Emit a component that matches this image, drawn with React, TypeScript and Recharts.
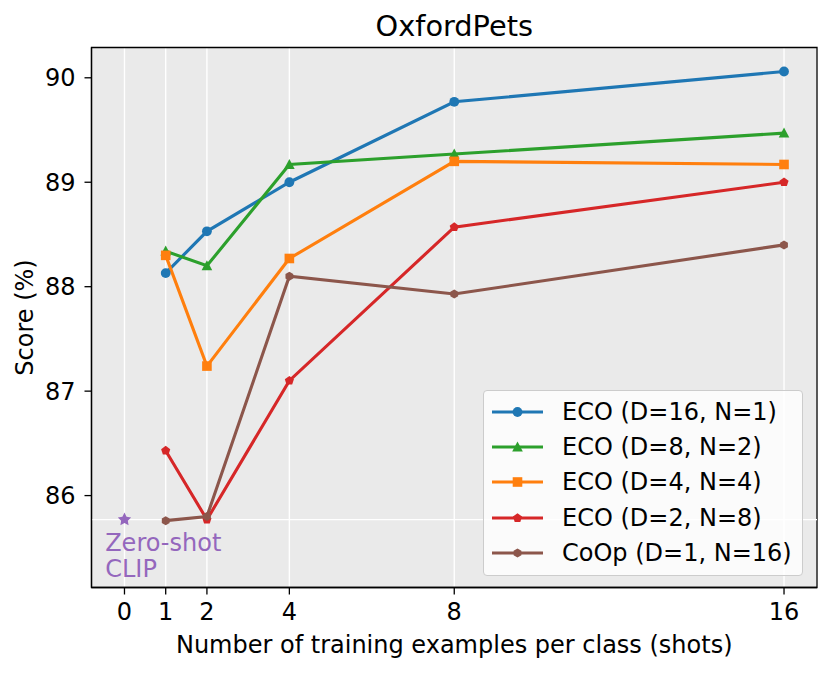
import React from "react";
import {
  ComposedChart,
  Line,
  Scatter,
  XAxis,
  YAxis,
  CartesianGrid,
  ReferenceLine,
  ReferenceArea,
  Legend,
} from "recharts";

const shots = [1, 2, 4, 8, 16];
const eco16 = [88.13, 88.53, 89.0, 89.77, 90.06];
const eco8 = [88.34, 88.2, 89.17, 89.27, 89.47];
const eco4 = [88.3, 87.24, 88.27, 89.2, 89.17];
const eco2 = [86.43, 85.77, 87.1, 88.57, 89.0];
const coop = [85.76, 85.8, 88.1, 87.93, 88.4];
const zeroShotClip = 85.77;

const xTicks = [0, 1, 2, 4, 8, 16];
const yTicks = [86, 87, 88, 89, 90];
const xDomain: [number, number] = [-0.8, 16.8];
const yDomain: [number, number] = [85.12, 90.29];

const FONT = "DejaVu Sans";
const LINE_W = 3.1;

const data = shots.map((shot, i) => ({
  shot,
  eco16: eco16[i],
  eco8: eco8[i],
  eco4: eco4[i],
  eco2: eco2[i],
  coop: coop[i],
}));

const zeroShotData = [{ shot: 0, zeroShot: zeroShotClip }];

type Shape = "circle" | "triangle" | "square" | "pentagon" | "hexagon" | "star";

const polygon = (cx: number, cy: number, n: number, r: number) => {
  const pts: string[] = [];
  for (let k = 0; k < n; k++) {
    const a = -Math.PI / 2 + (2 * Math.PI * k) / n;
    pts.push(`${cx + r * Math.cos(a)},${cy + r * Math.sin(a)}`);
  }
  return pts.join(" ");
};

const star = (cx: number, cy: number, r: number) => {
  const pts: string[] = [];
  for (let k = 0; k < 10; k++) {
    const a = -Math.PI / 2 + (Math.PI * k) / 5;
    const rr = k % 2 === 0 ? r : r * 0.5;
    pts.push(`${cx + rr * Math.cos(a)},${cy + rr * Math.sin(a)}`);
  }
  return pts.join(" ");
};

function Marker({ shape, cx, cy, color }: { shape: Shape; cx: number; cy: number; color: string }) {
  switch (shape) {
    case "circle":
      return <circle cx={cx} cy={cy} r={4.9} fill={color} />;
    case "triangle":
      return (
        <polygon
          points={`${cx},${cy - 5.6} ${cx - 5.3},${cy + 4.4} ${cx + 5.3},${cy + 4.4}`}
          fill={color}
        />
      );
    case "square":
      return <rect x={cx - 4.8} y={cy - 4.8} width={9.6} height={9.6} fill={color} />;
    case "pentagon":
      return <polygon points={polygon(cx, cy, 5, 4.8)} fill={color} />;
    case "hexagon":
      return <polygon points={polygon(cx, cy, 6, 4.5)} fill={color} />;
    default:
      return <polygon points={star(cx, cy, 7)} fill={color} />;
  }
}

const series: { key: string; name: string; color: string; shape: Shape }[] = [
  { key: "eco16", name: "ECO (D=16, N=1)", color: "#1f77b4", shape: "circle" },
  { key: "eco8", name: "ECO (D=8, N=2)", color: "#2ca02c", shape: "triangle" },
  { key: "eco4", name: "ECO (D=4, N=4)", color: "#ff7f0e", shape: "square" },
  { key: "eco2", name: "ECO (D=2, N=8)", color: "#d62728", shape: "pentagon" },
  { key: "coop", name: "CoOp (D=1, N=16)", color: "#8c564b", shape: "hexagon" },
];

const makeDot = (shape: Shape, color: string) => (props: any) => {
  const { cx, cy, index } = props;
  if (cx == null || cy == null) return <g key={index} />;
  return <Marker key={index} shape={shape} cx={cx} cy={cy} color={color} />;
};

const zeroShotShape = (props: any) => {
  const { cx, cy } = props;
  return (
    <g>
      <Marker shape="star" cx={cx} cy={cy} color="#9467bd" />
      <text x={cx - 19.3} y={cy + 31} fill="#9467bd" fontSize={24} fontFamily={FONT}>
        Zero-shot
      </text>
      <text x={cx - 19.3} y={cy + 57.6} fill="#9467bd" fontSize={24} fontFamily={FONT}>
        CLIP
      </text>
    </g>
  );
};

const renderLegend = () => (
  <div
    style={{
      boxSizing: "border-box",
      width: 320,
      height: 186,
      paddingTop: 3,
      background: "rgba(255,255,255,0.8)",
      border: "1px solid #cccccc",
      borderRadius: 4,
      fontFamily: FONT,
      fontSize: 24,
      color: "#000",
    }}
  >
    {series.map((s) => (
      <div key={s.key} style={{ display: "flex", alignItems: "center", height: 35.3 }}>
        <svg width={70} height={20} style={{ flex: "none" }}>
          <line x1={8} y1={10} x2={59} y2={10} stroke={s.color} strokeWidth={LINE_W} />
          <Marker shape={s.shape} cx={33.5} cy={10} color={s.color} />
        </svg>
        <span style={{ marginLeft: 8, whiteSpace: "nowrap" }}>{s.name}</span>
      </div>
    ))}
  </div>
);

const tickStyle = { fontSize: 24, fill: "#000", fontFamily: FONT };
const axisLine = { stroke: "#000", strokeWidth: 1.3 };

export default function App() {
  return (
    <div style={{ position: "absolute", left: 0, top: 0, width: 831, height: 673, background: "#fff" }}>
      <ComposedChart
        width={831}
        height={673}
        data={data}
        margin={{ top: 47.5, right: 14, bottom: 0, left: 0 }}
        style={{ fontFamily: FONT }}
      >
        <CartesianGrid
          horizontal={false}
          stroke="#ffffff"
          strokeWidth={1.4}
          fill="#eaeaea"
          fillOpacity={1}
        />
        <XAxis
          dataKey="shot"
          type="number"
          domain={xDomain}
          ticks={xTicks}
          allowDataOverflow
          height={85.5}
          tick={tickStyle}
          tickSize={7}
          tickMargin={8}
          tickLine={axisLine}
          axisLine={axisLine}
          label={(p: any) => {
            const vb = p.viewBox;
            return (
              <text
                x={vb.x + vb.width / 2}
                y={vb.y + 65.5}
                textAnchor="middle"
                fontSize={24}
                fontFamily={FONT}
                fill="#000"
              >
                Number of training examples per class (shots)
              </text>
            );
          }}
        />
        <YAxis
          type="number"
          domain={yDomain}
          ticks={yTicks}
          allowDataOverflow
          width={91.5}
          tick={tickStyle}
          tickSize={7}
          tickMargin={9}
          tickLine={axisLine}
          axisLine={axisLine}
          label={(p: any) => {
            const vb = p.viewBox;
            const cy = vb.y + vb.height / 2;
            return (
              <text
                x={25}
                y={cy}
                transform={`rotate(-90 25 ${cy})`}
                textAnchor="middle"
                dominantBaseline="central"
                fontSize={24}
                fontFamily={FONT}
                fill="#000"
              >
                Score (%)
              </text>
            );
          }}
        />
        <ReferenceLine y={zeroShotClip} stroke="#ffffff" strokeWidth={1.4} />
        {series.map((s) => (
          <Line
            key={s.key}
            type="linear"
            dataKey={s.key}
            name={s.name}
            stroke={s.color}
            strokeWidth={LINE_W}
            dot={makeDot(s.shape, s.color)}
            activeDot={false}
            isAnimationActive={false}
          />
        ))}
        <Scatter
          data={zeroShotData}
          dataKey="zeroShot"
          shape={zeroShotShape}
          legendType="none"
          isAnimationActive={false}
        />
        <ReferenceArea
          x1={xDomain[0]}
          x2={xDomain[1]}
          y1={yDomain[0]}
          y2={yDomain[1]}
          fill="none"
          fillOpacity={0}
          stroke="#000"
          strokeWidth={1.3}
          ifOverflow="visible"
          label={{
            value: "OxfordPets",
            position: "top",
            offset: 11.5,
            fontSize: 28.8,
            fill: "#000",
            fontFamily: FONT,
          }}
        />
        <Legend
          layout="horizontal"
          verticalAlign="middle"
          align="center"
          content={renderLegend}
          wrapperStyle={{ position: "absolute", left: 483, top: 390, width: 320, height: 186 }}
        />
      </ComposedChart>
    </div>
  );
}
